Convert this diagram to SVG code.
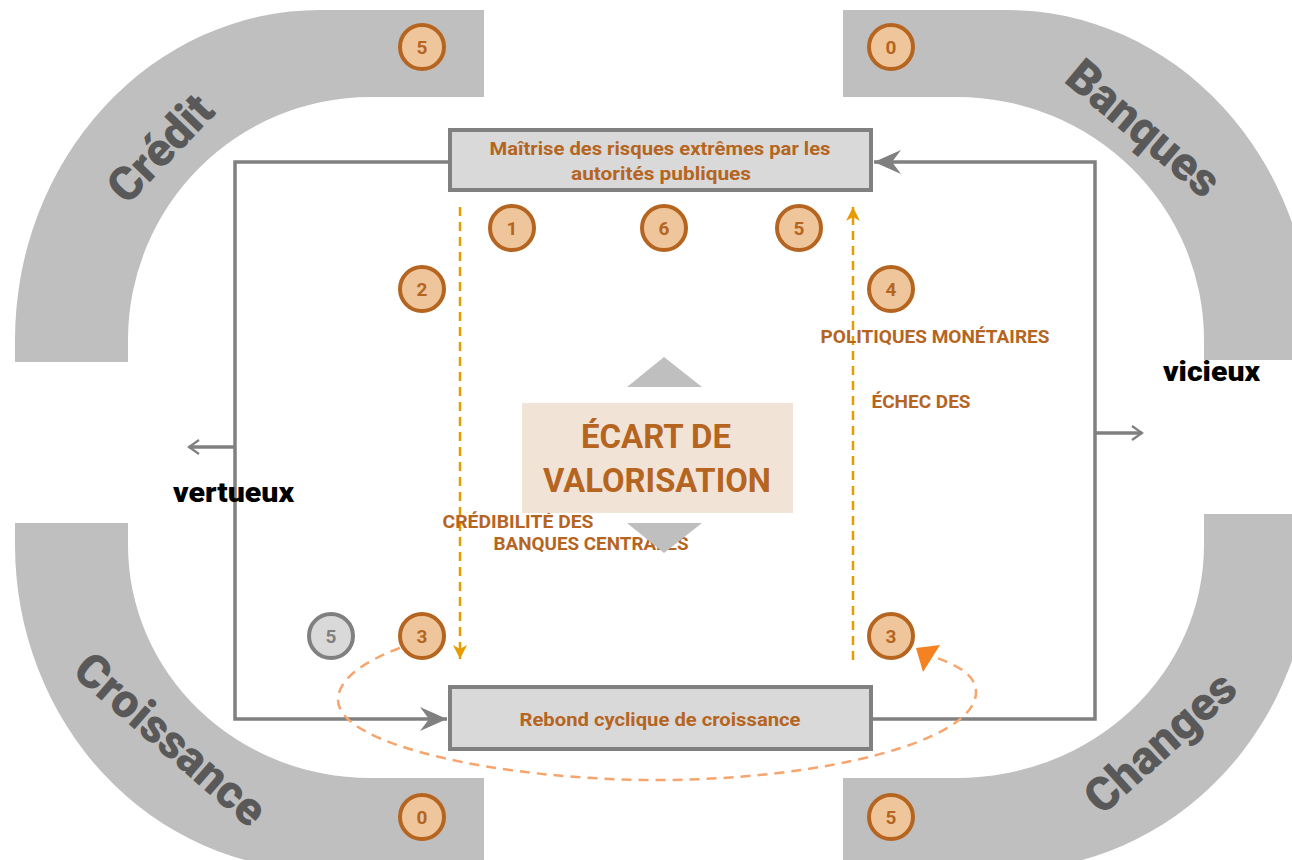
<svg xmlns="http://www.w3.org/2000/svg" width="1292" height="860" viewBox="0 0 1292 860">
<style>
.band{fill:#bfbfbf}
.bandtxt{font-family:Roboto,"Liberation Sans",sans-serif;font-weight:900;font-size:47px;fill:#595959;text-anchor:middle;dominant-baseline:central}
.badge circle{fill:#efc69c;stroke:#b5651f;stroke-width:4}
.badge text{font-family:Roboto,"Liberation Sans",sans-serif;font-weight:bold;font-size:19px;fill:#b5651f;text-anchor:middle}
.badge.grey circle{fill:#d9d9d9;stroke:#808080}
.badge.grey text{fill:#808080}
.box rect{fill:#d9d9d9;stroke:#808080;stroke-width:4}
.lbl{font-family:Roboto,"Liberation Sans",sans-serif;font-weight:bold;fill:#b5651f;text-anchor:middle}
.blk{font-family:Roboto,"Liberation Sans",sans-serif;font-weight:900;fill:#000;font-size:27px}
.gline{fill:none;stroke:#808080;stroke-width:3.5}
.oline{fill:none;stroke:#e69b00;stroke-width:2.5;stroke-dasharray:9 6}
.cycle{fill:none;stroke:#f6a56e;stroke-width:2.5;stroke-dasharray:10 7}
.tri{fill:#bfbfbf}
</style>
<defs>
<marker id="bigArrow" markerUnits="userSpaceOnUse" markerWidth="30" markerHeight="30" viewBox="-1 -14 30 28" refX="27" refY="0" orient="auto">
<path d="M0,-12 L27,0 L0,12 L9,0 Z" fill="#808080"/>
</marker>
<marker id="smallArrow" markerUnits="userSpaceOnUse" markerWidth="14" markerHeight="18" viewBox="-2 -9 14 18" refX="10" refY="0" orient="auto">
<path d="M0,-7 L10,0 L0,7" fill="none" stroke="#808080" stroke-width="2.2"/>
</marker>
<marker id="orArrow" markerUnits="userSpaceOnUse" markerWidth="16" markerHeight="18" viewBox="-1 -9 16 18" refX="14" refY="0" orient="auto">
<path d="M0,-7 L14,0 L0,7 L4,0 Z" fill="#e69b00"/>
</marker>
</defs>

<g id="bands">
<path class="band" d="M484,10 L320,10 A305,330 0 0 0 15,340 L15,362 L128,362 L128,340 A242,243 0 0 1 370,97 L484,97 Z"/>
<path class="band" d="M843,10 L1007,10 A305,330 0 0 1 1312,340 L1312,360 L1204,360 L1204,340 A247,243 0 0 0 957,97 L843,97 Z"/>
<path class="band" d="M15,523 L128,523 L128,545 A242,233 0 0 0 370,778 L484,778 L484,870 L320,870 A305,325 0 0 1 15,545 Z"/>
<path class="band" d="M1204,514 L1312,514 L1312,545 A305,325 0 0 1 1007,870 L843,870 L843,778 L957,778 A247,233 0 0 0 1204,545 Z"/>
<text class="bandtxt" transform="translate(160,148) rotate(-46)">Crédit</text>
<text class="bandtxt" transform="translate(1144,128) rotate(40)">Banques</text>
<text class="bandtxt" transform="translate(171,739) rotate(41)">Croissance</text>
<text class="bandtxt" transform="translate(1160,742) rotate(-42)">Changes</text>
</g>

<g id="connectors">
<path class="gline" d="M450,162 L235,162 L235,719 L447,719" marker-end="url(#bigArrow)"/>
<path class="gline" d="M871,719 L1095,719 L1095,162 L874,162" marker-end="url(#bigArrow)"/>
<path class="gline" d="M235,447 L189,447" stroke-width="3" marker-end="url(#smallArrow)"/>
<path class="gline" d="M1095,433 L1142,433" stroke-width="3" marker-end="url(#smallArrow)"/>
<path class="oline" d="M460,207 L460,659" marker-end="url(#orArrow)"/>
<path class="oline" d="M853,660 L853,207" marker-end="url(#orArrow)"/>
<path class="cycle" d="M400,648 C362,662 338,680 338,700 C338,745 500,780 657,780 C820,780 976,742 976,692 C976,676 960,666 934,657"/>
<polygon points="916,648 940,645 923,672" fill="#f58220"/>
</g>

<g id="box-top" class="box">
<rect x="450" y="130" width="421" height="60"/>
<text class="lbl" x="660" y="155" font-size="18" textLength="341" lengthAdjust="spacingAndGlyphs">Maîtrise des risques extrêmes par les</text>
<text class="lbl" x="661" y="180" font-size="18" textLength="180" lengthAdjust="spacingAndGlyphs">autorités publiques</text>
</g>

<g id="box-bottom" class="box">
<rect x="450" y="687" width="421" height="62"/>
<text class="lbl" x="660" y="726" font-size="18" textLength="281" lengthAdjust="spacingAndGlyphs">Rebond cyclique de croissance</text>
</g>

<g id="labels">
<text class="lbl" x="935" y="343" font-size="18" textLength="229" lengthAdjust="spacingAndGlyphs">POLITIQUES MONÉTAIRES</text>
<text class="lbl" x="921" y="408" font-size="18" textLength="99" lengthAdjust="spacingAndGlyphs">ÉCHEC DES</text>
<text class="lbl" x="518" y="528" font-size="18" textLength="151" lengthAdjust="spacingAndGlyphs">CRÉDIBILITÉ DES</text>
<text class="lbl" x="591" y="550" font-size="18" textLength="195" lengthAdjust="spacingAndGlyphs">BANQUES CENTRALES</text>
<text class="blk" x="173" y="502" textLength="121" lengthAdjust="spacingAndGlyphs">vertueux</text>
<text class="blk" x="1163" y="381" textLength="97" lengthAdjust="spacingAndGlyphs">vicieux</text>
</g>

<g id="center">
<polygon class="tri" points="627,387 702,387 664,357"/>
<polygon class="tri" points="627,523 702,523 664,553"/>
<rect x="522" y="403" width="271" height="110" fill="#f2e3d7"/>
<text class="lbl" x="656" y="448" font-size="34" textLength="150" lengthAdjust="spacingAndGlyphs">ÉCART DE</text>
<text class="lbl" x="657" y="492" font-size="34" textLength="228" lengthAdjust="spacingAndGlyphs">VALORISATION</text>
</g>

<g id="badge-credit-5" class="badge"><circle cx="422" cy="47" r="22"/><text x="422" y="54">5</text></g>
<g id="badge-banques-0" class="badge"><circle cx="891" cy="47" r="22"/><text x="891" y="54">0</text></g>
<g id="badge-1" class="badge"><circle cx="512" cy="228" r="22"/><text x="512" y="235">1</text></g>
<g id="badge-6" class="badge"><circle cx="664" cy="228" r="22"/><text x="664" y="235">6</text></g>
<g id="badge-5-top" class="badge"><circle cx="799" cy="228" r="22"/><text x="799" y="235">5</text></g>
<g id="badge-2" class="badge"><circle cx="422" cy="289" r="22"/><text x="422" y="296">2</text></g>
<g id="badge-4" class="badge"><circle cx="891" cy="289" r="22"/><text x="891" y="296">4</text></g>
<g id="badge-5-grey" class="badge grey"><circle cx="331" cy="636" r="22"/><text x="331" y="643">5</text></g>
<g id="badge-3-left" class="badge"><circle cx="422" cy="636" r="22"/><text x="422" y="643">3</text></g>
<g id="badge-3-right" class="badge"><circle cx="891" cy="636" r="22"/><text x="891" y="643">3</text></g>
<g id="badge-croissance-0" class="badge"><circle cx="422" cy="817" r="22"/><text x="422" y="824">0</text></g>
<g id="badge-changes-5" class="badge"><circle cx="891" cy="817" r="22"/><text x="891" y="824">5</text></g>
</svg>
